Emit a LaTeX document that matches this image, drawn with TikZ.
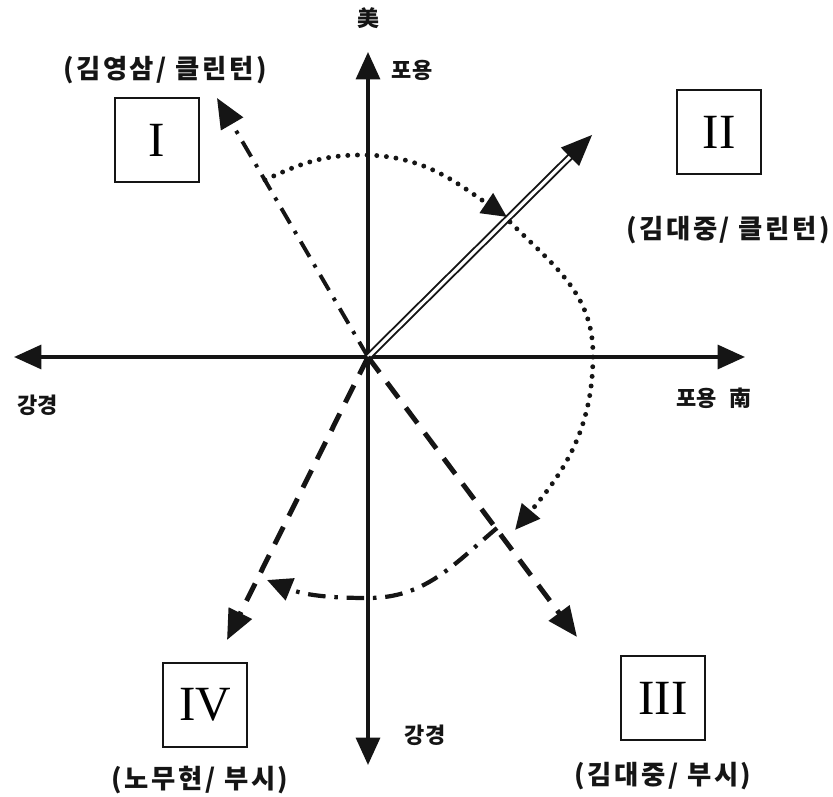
\documentclass[tikz,border=0pt]{standalone}
\usepackage{fontspec}
\newfontfamily\krfont{Noto Sans CJK KR}
\newfontfamily\krwide[LetterSpace=10]{Noto Sans CJK KR}
\newfontfamily\numfont{Liberation Serif}
\usetikzlibrary{arrows.meta}
\definecolor{inkblack}{HTML}{151515}

\begin{document}
\begin{tikzpicture}[
 quad/.style={draw=inkblack,line width=0.9pt,minimum width=1.68cm,minimum height=1.68cm,inner sep=0pt,font=\numfont\fontsize{28}{30}\selectfont},
 pair/.style={text=inkblack,font=\krwide\bfseries\fontsize{15}{17}\selectfont},
 axlabel/.style={text=inkblack,font=\krfont\bfseries\fontsize{12.5}{14}\selectfont},
 axis/.style={draw=inkblack,line width=2pt,-{Triangle[length=5.5mm,width=4.8mm]}},
 bigtip/.style={-{Triangle[length=6mm,width=5mm]}},
 smalltip/.style={-{Triangle[length=5mm,width=4.6mm]}}]
\useasboundingbox (-7.36,-8.8) rectangle (9.3,7.14);
\fill[white] (-7.36,-8.8) rectangle (9.3,7.14);

\coordinate (o) at (0,0);
\coordinate (up) at (0,6.1);
\coordinate (down) at (0,-8.16);
\coordinate (left) at (-7.08,0);
\coordinate (right) at (7.54,0);
\draw[axis] (o) -- (up);
\draw[axis] (o) -- (down);
\draw[axis] (o) -- (left);
\draw[axis] (o) -- (right);

\node[axlabel] (mi) at (0,6.78) {美};
\node[axlabel] (pyU) at (0.88,5.74) {포용};
\node[axlabel] (gyL) at (-6.6,-0.96) {강경};
\node[axlabel] (pyR) at (6.92,-0.82) {포용\hspace{0.6em}南};
\node[axlabel] (gyD) at (1.14,-7.56) {강경};

\node[quad] (q1) at (-4.22,4.34) {I};
\node[quad] (q2) at (7.02,4.5) {II};
\node[quad] (q3) at (5.9,-6.82) {III};
\node[quad] (q4) at (-3.26,-6.96) {IV};

\node[pair] (l1) at (-4.06,5.74) {(김영삼/ 클린턴)};
\node[pair] (l2) at (7.2,2.54) {(김대중/ 클린턴)};
\node[pair] (l3) at (5.9,-8.38) {(김대중/ 부시)};
\node[pair] (l4) at (-3.36,-8.46) {(노무현/ 부시)};

\coordinate (p1) at (-3.02,5.18);
\coordinate (p2) at (4.48,4.44);
\coordinate (p3) at (4.18,-5.6);
\coordinate (p4) at (-2.82,-5.66);
\draw[inkblack,line width=2.2pt,dash pattern=on 10pt off 5pt on 2pt off 5pt,bigtip] (o) -- (p1);
\draw[inkblack,line width=1.1pt,double=white,double distance=1.8pt,shorten >=5mm] (o) -- (p2);
\fill[inkblack] (p2) -- ([shift={(224.7:6.2mm)},shift={(134.7:2.6mm)}]p2) -- ([shift={(224.7:6.2mm)},shift={(314.7:2.6mm)}]p2) -- cycle;
\draw[inkblack,line width=2.8pt,dash pattern=on 11pt off 7pt,bigtip] (o) -- (p3);
\draw[inkblack,line width=2.8pt,dash pattern=on 11pt off 7pt,bigtip] (o) -- (p4);

\coordinate (d1s) at (-2.06,3.54);
\coordinate (d1m) at (-0.12,4.04);
\coordinate (d1e) at (2.78,2.8);
\coordinate (d2s) at (2.84,2.7);
\coordinate (d2m) at (4.5,0.05);
\coordinate (d2e) at (2.94,-3.46);
\coordinate (d3s) at (2.58,-3.42);
\coordinate (d3m) at (0,-4.82);
\coordinate (d3e) at (-2.02,-4.46);
\draw[inkblack,line width=2.8pt,line cap=round,dash pattern=on 0pt off 5.5pt,smalltip] (d1s) to[out=25,in=180] (d1m) to[out=0,in=146] (d1e);
\draw[inkblack,line width=2.8pt,line cap=round,dash pattern=on 0pt off 5.5pt,smalltip] (d2s) to[out=-45,in=90] (d2m) to[out=-90,in=50] (d2e);
\draw[inkblack,line width=2.4pt,dash pattern=on 10pt off 5pt on 2pt off 5pt,smalltip] (d3s) to[out=220,in=0] (d3m) to[out=180,in=-22] (d3e);
\end{tikzpicture}
\end{document}
